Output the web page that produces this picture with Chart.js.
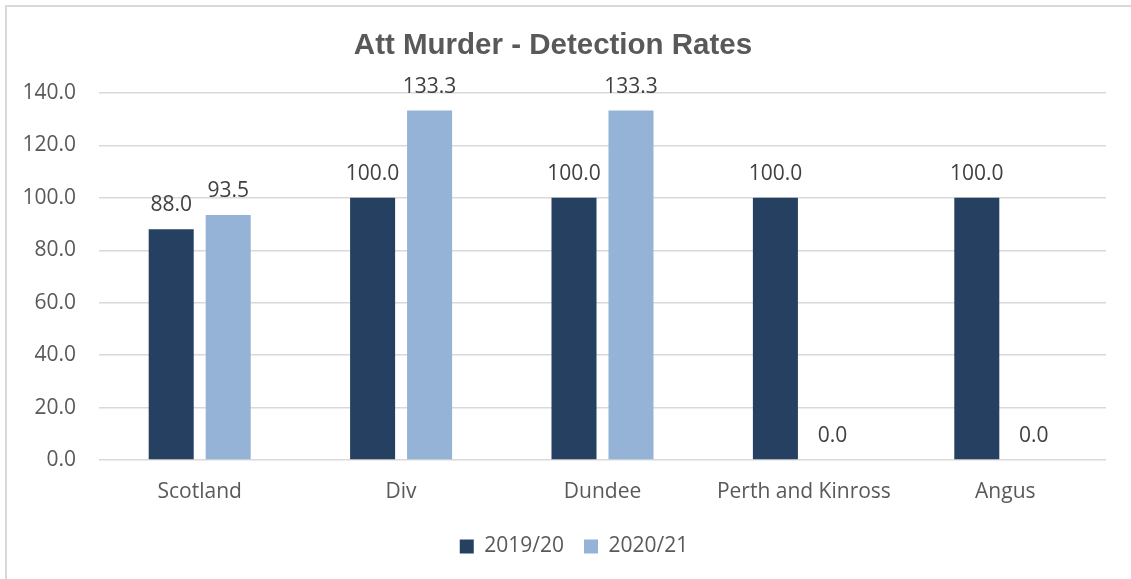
<!DOCTYPE html>
<html>
<head>
<meta charset="utf-8">
<script src="https://cdn.jsdelivr.net/npm/chart.js@4/dist/chart.umd.min.js"></script>
<style>
  html, body { margin: 0; padding: 0; background: #ffffff; }
  #wrap { position: relative; width: 1131px; height: 579px; overflow: hidden; }
  #frame { position: absolute; left: 5px; top: 5px; width: 1140px; height: 600px;
           border-top: 2px solid #d9d9d9; border-left: 2px solid #d9d9d9; box-sizing: border-box; }
  canvas { position: absolute; left: 0; top: 0; }
</style>
</head>
<body>
<div id="wrap">
  <div id="frame"></div>
  <canvas id="c" width="1131" height="579"></canvas>
</div>
<script>
const titleText = 'Att Murder - Detection Rates';
const categories = ['Scotland', 'Div', 'Dundee', 'Perth and Kinross', 'Angus'];
const seriesNames = ['2019/20', '2020/21'];
const values2019 = [88.0, 100.0, 100.0, 100.0, 100.0];
const values2020 = [93.5, 133.3, 133.3, 0.0, 0.0];
const yTicks = [0, 20, 40, 60, 80, 100, 120, 140];

const FONT = "'Open Sans', 'Noto Sans', sans-serif";
const TEXT = '#595959';

const dataLabels = {
  id: 'dataLabels',
  afterDatasetsDraw(chart) {
    const ctx = chart.ctx;
    ctx.save();
    ctx.font = '21px ' + FONT;
    ctx.fillStyle = '#404040';
    ctx.textAlign = 'center';
    ctx.textBaseline = 'middle';
    chart.data.datasets.forEach((ds, i) => {
      const meta = chart.getDatasetMeta(i);
      meta.data.forEach((bar, j) => {
        ctx.fillText(Number(ds.data[j]).toFixed(1), bar.x, bar.y - 24);
      });
    });
    ctx.restore();
  }
};

const legendShift = {
  id: 'legendShift',
  afterLayout(chart) {
    const lg = chart.legend;
    if (!lg) return;
    lg.left += 21; lg.right += 21;
    lg.top -= 12; lg.bottom -= 12;
  }
};

new Chart(document.getElementById('c'), {
  type: 'bar',
  data: {
    labels: categories,
    datasets: [
      { label: seriesNames[0], data: values2019, backgroundColor: '#264061',
        categoryPercentage: 0.566, barPercentage: 0.79 },
      { label: seriesNames[1], data: values2020, backgroundColor: '#95b3d7',
        categoryPercentage: 0.566, barPercentage: 0.79 }
    ]
  },
  options: {
    responsive: false,
    animation: false,
    layout: { padding: { left: 0, right: 25, top: 0, bottom: 0 } },
    scales: {
      x: {
        grid: { display: false },
        border: { display: false },
        afterFit(scale) { scale.height = 68; },
        ticks: { color: TEXT, font: { family: FONT, size: 21 }, padding: 11, maxRotation: 0 }
      },
      y: {
        min: 0, max: 140,
        afterBuildTicks(scale) { scale.ticks = yTicks.map(v => ({ value: v })); },
        afterFit(scale) { scale.width = 99; },
        grid: { color: '#d9d9d9', lineWidth: 1.5, drawTicks: false },
        border: { display: false },
        ticks: { color: TEXT, font: { family: FONT, size: 21 }, padding: 23,
                 callback: v => Number(v).toFixed(1) }
      }
    },
    plugins: {
      title: {
        display: true, text: titleText, color: TEXT,
        font: { family: "'Liberation Sans', Arial, sans-serif", size: 29.5, weight: 'bold', lineHeight: 1.2 },
        padding: { top: 28, bottom: 29.6 }
      },
      legend: {
        position: 'bottom',
        labels: { color: TEXT, font: { family: FONT, size: 21 }, boxWidth: 14, boxHeight: 14, padding: 20 }
      },
      tooltip: { enabled: false }
    }
  },
  plugins: [dataLabels, legendShift]
});
</script>
</body>
</html>
